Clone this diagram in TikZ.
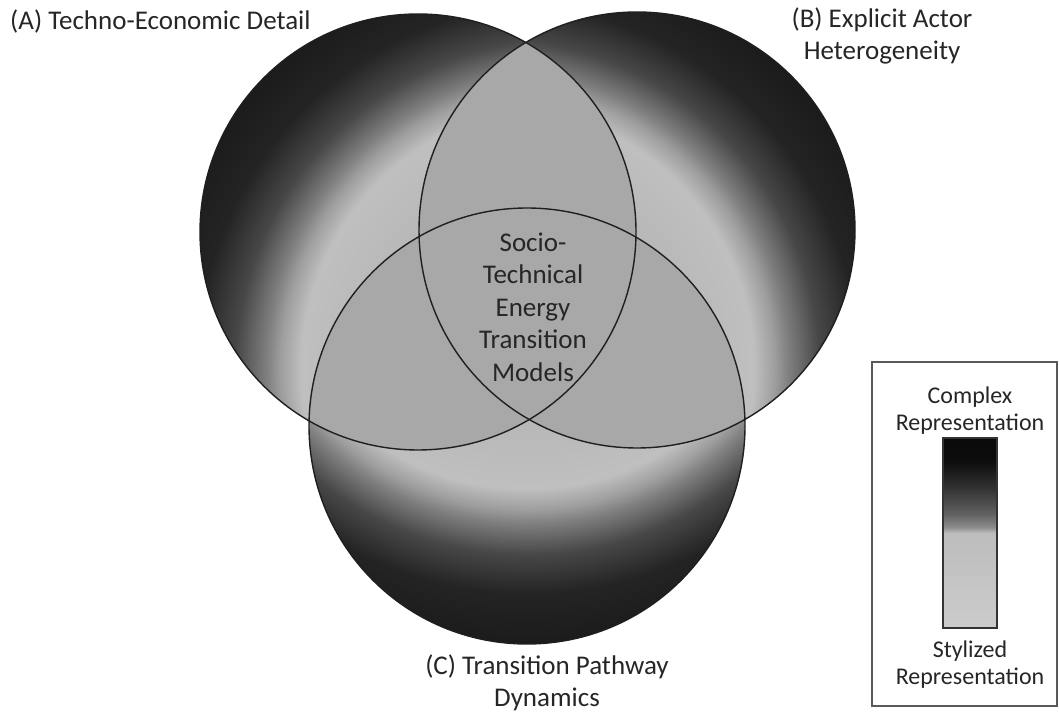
\documentclass[tikz,border=0pt]{standalone}
\usepackage{fontspec}
\setmainfont{Carlito}
\usetikzlibrary{positioning}

% light glow towards the middle, dark towards the outer rim
\pgfdeclareradialshading{glow}{\pgfpointorigin}{
  color(0bp)=(black!30);
  color(11.6bp)=(black!28);
  color(15.4bp)=(black!25);
  color(16.6bp)=(black!38);
  color(17.4bp)=(black!50);
  color(19.2bp)=(black!72);
  color(21.5bp)=(black!86);
  color(25bp)=(black!90);
  color(50bp)=(black!90)
}
\pgfdeclareverticalshading{legendbar}{100bp}{
  color(0bp)=(black!20);
  color(25bp)=(black!20);
  color(50bp)=(black!26);
  color(51.5bp)=(black!45);
  color(55bp)=(black!62);
  color(62.5bp)=(black!82);
  color(69bp)=(black!95);
  color(75bp)=(black!96);
  color(100bp)=(black!96)
}
\newcommand{\bigfont}{\fontsize{27}{32.5}\selectfont}
\newcommand{\keyfont}{\fontsize{24}{27}\selectfont}

\begin{document}
\begin{tikzpicture}[
  x=1pt,
  y=1pt,
  overlap/.style={
    fill=black!34,
  },
  rim/.style={
    draw=black!88,
    line width=1.4pt,
  },
  label/.style={
    inner sep=0pt,
    align=center,
    text=black!85,
    font=\bigfont,
  },
  key/.style={
    inner sep=0pt,
    align=center,
    text=black!85,
    font=\keyfont,
  },
  bar/.style={
    draw=black!80,
    line width=1.2pt,
    shading=legendbar,
    minimum width=54pt,
    minimum height=190pt,
    inner sep=0pt,
  },
  frame/.style={
    draw=black!65,
    line width=1.5pt,
  },
]
  \useasboundingbox (0,0) rectangle (1059,712);

  \def\r{218}

  \coordinate (A) at (418,480);
  \coordinate (B) at (637,482);
  \coordinate (C) at (527,286);
  \coordinate (FA) at (566,343);
  \coordinate (FB) at (489,343);
  \coordinate (FC) at (527,488);

  %%%%%%%%%%%%%%%%%%%% circles %%%%%%%%%%%%%%%%%%%%

  \foreach \c/\f in {A/FA,B/FB,C/FC} {
    \begin{scope}
      \clip (\c) circle (\r);
      \shade[shading=glow] (\f) circle (430);
    \end{scope}
  }

  \begin{scope}
    \clip (A) circle (\r);
    \fill[overlap] (B) circle (\r);
    \fill[overlap] (C) circle (\r);
  \end{scope}
  \begin{scope}
    \clip (B) circle (\r);
    \fill[overlap] (C) circle (\r);
  \end{scope}

  \foreach \c in {A,B,C} {
    \draw[rim] (\c) circle (\r);
  }

  %%%%%%%%%%%%%%%%%%%% labels %%%%%%%%%%%%%%%%%%%%

  \node[label,anchor=west] (labelA) at (10,690)
    {(A) Techno-Economic Detail};
  \node[label] (labelB) at (882,676)
    {(B) Explicit Actor\\Heterogeneity};
  \node[label] (labelC) at (547,29)
    {(C) Transition Pathway\\Dynamics};
  \node[label] (core) at (533,405)
    {Socio-\\Technical\\Energy\\Transition\\Models};

  %%%%%%%%%%%%%%%%%%%% legend %%%%%%%%%%%%%%%%%%%%

  \draw[frame] (872,6) rectangle (1057,350);
  \node[bar,shade] (bar) at (970,179) {};
  \node[key,above=3pt of bar] (complex) {Complex\\Representation};
  \node[key,below=12pt of bar] (stylized) {Stylized\\Representation};
\end{tikzpicture}
\end{document}
